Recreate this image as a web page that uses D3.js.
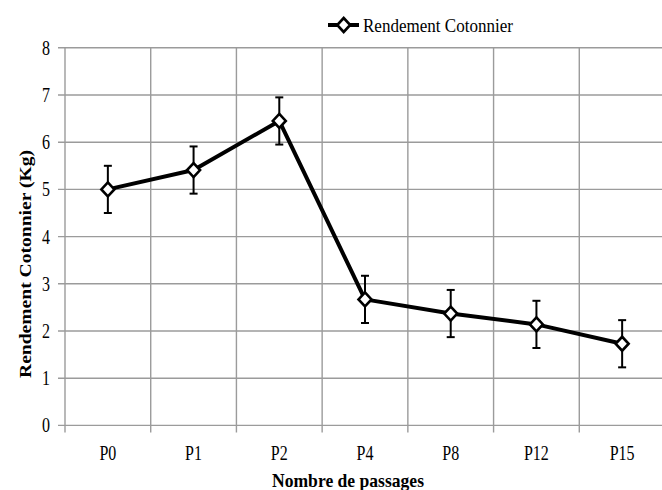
<!DOCTYPE html>
<html>
<head>
<meta charset="utf-8">
<script src="https://cdn.jsdelivr.net/npm/d3@7"></script>
<style>
  body { margin: 0; background: #fff; }
  svg { display: block; }
  text { font-family: "Liberation Serif", "DejaVu Serif", serif; fill: #000; }
</style>
</head>
<body>
<svg id="chart" width="662" height="490"></svg>
<script>
// data
var passages = ["P0", "P1", "P2", "P4", "P8", "P12", "P15"];
var rendement = [5.0, 5.41, 6.45, 2.67, 2.37, 2.14, 1.73];
var erreur = [0.5, 0.5, 0.5, 0.5, 0.5, 0.5, 0.5];
var yTicks = [0, 1, 2, 3, 4, 5, 6, 7, 8];

var svg = d3.select("#chart"),
    plot_left = 65,
    plot_right = 665,
    plot_top = 47.8,
    plot_bottom = 425.4,
    grid_color = "#9b9b9b",
    squeeze = 0.8;

var x = d3.scaleBand().domain(passages).range([plot_left, plot_right]);
var y = d3.scaleLinear().domain([0, 8]).range([plot_bottom, plot_top]);

var pts = passages.map(function(p, i) {
    return { cat: p, value: rendement[i], err: erreur[i] };
});

// narrow the serif glyphs a bit, the original font is a condensed one
function narrow(sel) {
    sel.each(function() {
        var w = this.getComputedTextLength();
        d3.select(this)
            .attr("textLength", w * squeeze)
            .attr("lengthAdjust", "spacingAndGlyphs");
    });
}

// horizontal grid
svg.append("g")
    .selectAll("line")
    .data(yTicks)
    .enter().append("line")
    .attr("x1", plot_left - 7)
    .attr("x2", plot_right)
    .attr("y1", function(d) { return y(d); })
    .attr("y2", function(d) { return y(d); })
    .attr("stroke", grid_color)
    .attr("stroke-width", 1.4);

// vertical grid (category boundaries)
var bounds = passages.map(function(p) { return x(p); });
svg.append("g")
    .selectAll("line")
    .data(bounds)
    .enter().append("line")
    .attr("x1", function(d) { return d; })
    .attr("x2", function(d) { return d; })
    .attr("y1", plot_top)
    .attr("y2", plot_bottom + 7)
    .attr("stroke", grid_color)
    .attr("stroke-width", 1.4);

// y tick labels
svg.append("g")
    .selectAll("text")
    .data(yTicks)
    .enter().append("text")
    .attr("x", 50)
    .attr("y", function(d) { return y(d) + 7; })
    .attr("text-anchor", "end")
    .style("font-size", "20px")
    .text(function(d) { return d; })
    .call(narrow);

// x tick labels
svg.append("g")
    .selectAll("text")
    .data(passages)
    .enter().append("text")
    .attr("x", function(d) { return x(d) + x.bandwidth() / 2; })
    .attr("y", 460)
    .attr("text-anchor", "middle")
    .style("font-size", "20px")
    .text(function(d) { return d; })
    .call(narrow);

// axis titles
svg.append("text")
    .attr("x", 348)
    .attr("y", 487)
    .attr("text-anchor", "middle")
    .attr("textLength", 152)
    .attr("lengthAdjust", "spacingAndGlyphs")
    .style("font-size", "19px")
    .style("font-weight", "bold")
    .text("Nombre de passages");

svg.append("text")
    .attr("transform", "translate(31," + 264 + ") rotate(-90)")
    .attr("text-anchor", "middle")
    .attr("textLength", 228)
    .attr("lengthAdjust", "spacingAndGlyphs")
    .style("font-size", "17px")
    .style("font-weight", "bold")
    .text("Rendement Cotonnier (Kg)");

// error bars
var eb = svg.append("g").attr("stroke", "#000").attr("stroke-width", 2);
pts.forEach(function(d) {
    var cx = x(d.cat) + x.bandwidth() / 2;
    eb.append("line")
        .attr("x1", cx).attr("x2", cx)
        .attr("y1", y(d.value + d.err)).attr("y2", y(d.value - d.err));
    [d.value + d.err, d.value - d.err].forEach(function(v) {
        eb.append("line")
            .attr("x1", cx - 4).attr("x2", cx + 4)
            .attr("y1", y(v)).attr("y2", y(v));
    });
});

// line
var line = d3.line()
    .x(function(d) { return x(d.cat) + x.bandwidth() / 2; })
    .y(function(d) { return y(d.value); });

svg.append("path")
    .datum(pts)
    .attr("d", line)
    .attr("fill", "none")
    .attr("stroke", "#000")
    .attr("stroke-width", 4)
    .attr("stroke-linejoin", "round");

function diamond(g, cx, cy) {
    g.append("path")
        .attr("d", "M" + cx + "," + (cy - 7) + "L" + (cx + 6.5) + "," + cy +
            "L" + cx + "," + (cy + 7) + "L" + (cx - 6.5) + "," + cy + "Z")
        .attr("fill", "#fff")
        .attr("stroke", "#000")
        .attr("stroke-width", 2.6);
}

var mk = svg.append("g");
pts.forEach(function(d) {
    diamond(mk, x(d.cat) + x.bandwidth() / 2, y(d.value));
});

// legend
var lg = svg.append("g");
lg.append("line")
    .attr("x1", 328).attr("x2", 359)
    .attr("y1", 25).attr("y2", 25)
    .attr("stroke", "#000")
    .attr("stroke-width", 4);
diamond(lg, 343.7, 25);
lg.append("text")
    .attr("x", 363)
    .attr("y", 32)
    .attr("textLength", 150)
    .attr("lengthAdjust", "spacingAndGlyphs")
    .style("font-size", "19px")
    .text("Rendement Cotonnier");
</script>
</body>
</html>
